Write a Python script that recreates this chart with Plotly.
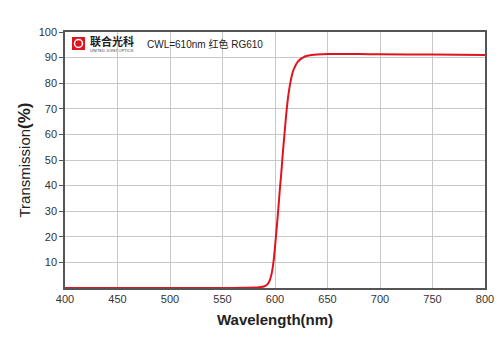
import plotly.graph_objects as go

wavelength = [400, 450, 500, 550, 570, 580, 585, 590, 593, 595, 597, 598.5, 600, 601.5, 603,
              604.5, 606, 607.5, 609, 610.5, 612, 613.5, 615, 617, 619, 621, 624, 627, 630,
              635, 640, 650, 660, 680, 700, 750, 800]
transmission = [0, 0, 0, 0, 0.05, 0.15, 0.3, 0.7, 1.5, 3, 6, 10, 16, 23, 30,
                38, 45, 53, 60, 67, 73, 77.5, 81, 84.5, 86.5, 88, 89.3, 90.1, 90.6,
                91.0, 91.2, 91.4, 91.4, 91.4, 91.3, 91.2, 91.0]
x_ticks = [400, 450, 500, 550, 600, 650, 700, 750, 800]
y_ticks = [10, 20, 30, 40, 50, 60, 70, 80, 90, 100]

fig = go.Figure()
fig.add_trace(go.Scatter(x=wavelength, y=transmission, mode="lines",
                         line=dict(color="#e0141e", width=2, shape="spline", smoothing=0.6),
                         hoverinfo="skip", showlegend=False, cliponaxis=False))

W, H = 500, 353
L, R, T, B = 65, 15, 32, 65
pw, ph = W - L - R, H - T - B

def px(xp):
    return (xp - L) / pw

def py(yp):
    return 1 - (yp - T) / ph

fig.update_layout(
    width=W, height=H,
    margin=dict(l=L, r=R, t=T, b=B),
    paper_bgcolor="white", plot_bgcolor="white",
    font=dict(family="Arial, Liberation Sans, sans-serif", size=11, color="#333"),
    xaxis=dict(range=[400, 800], tickvals=x_ticks, showgrid=True, gridcolor="#c8c8c8",
               gridwidth=1, showline=True, linecolor="#555", linewidth=1.5, mirror=True,
               ticks="", zeroline=False, tickfont=dict(size=11, color="#333"),
               automargin=False,
               title=dict(text="<b>Wavelength(nm)</b>", font=dict(size=15, color="#222"),
                          standoff=11)),
    yaxis=dict(range=[0, 100], tickvals=y_ticks, showgrid=True, gridcolor="#c8c8c8",
               gridwidth=1, showline=True, linecolor="#555", linewidth=1.5, mirror=True,
               ticks="outside", ticklen=4, tickcolor="#555", zeroline=False,
               automargin=False,
               tickfont=dict(size=11, color="#333"),
               title=dict(text="Transmission<b><span style='font-size:17px'>(%)</span></b>",
                          font=dict(size=15, color="#222"), standoff=4)),
)

# logo icon
fig.add_shape(type="rect", xref="paper", yref="paper",
              x0=px(72), x1=px(85), y0=py(50), y1=py(37),
              fillcolor="#e0141e", line=dict(width=0), layer="above")
fig.add_shape(type="circle", xref="paper", yref="paper",
              x0=px(74.5), x1=px(82.5), y0=py(47.5), y1=py(39.5),
              fillcolor="#e0141e", line=dict(color="white", width=1.5), layer="above")
fig.add_annotation(x=px(88), y=py(41), xref="paper", yref="paper", xanchor="left",
                   yanchor="middle", showarrow=False,
                   text="<b>联合光科</b>",
                   font=dict(family="Noto Sans CJK SC", size=11, color="#222"))
fig.add_annotation(x=px(88), y=py(50), xref="paper", yref="paper", xanchor="left",
                   yanchor="middle", showarrow=False,
                   text="UNITED JOINT OPTICS",
                   font=dict(family="Arial", size=4, color="#444"))
fig.add_annotation(x=px(145), y=py(44), xref="paper", yref="paper", xanchor="left",
                   yanchor="middle", showarrow=False,
                   text="CWL=610nm 红色 RG610",
                   font=dict(family="Arial, Noto Sans CJK SC", size=10, color="#222"))

fig.write_html("out.html")
